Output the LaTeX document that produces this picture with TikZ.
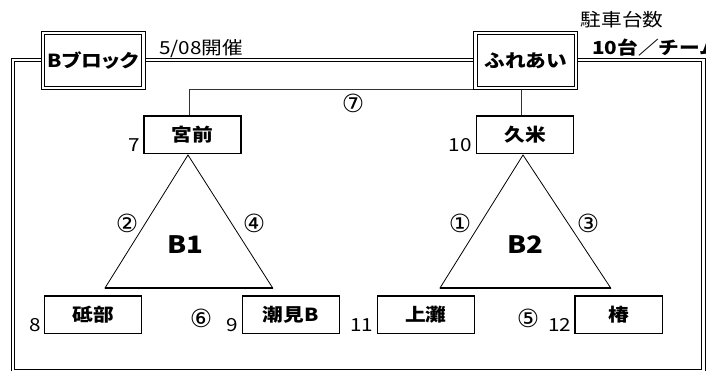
\documentclass[tikz,border=0pt]{standalone}
\usepackage{fontspec}
\setmainfont{Noto Sans CJK JP}[FakeStretch = 1.15]
\newfontfamily\circlefont{DejaVu Sans}
\begin{document}
\begin{tikzpicture}[x = 1pt,y = -1pt,
	team/.style = {draw,line width = 1.6pt,minimum width = 97pt,minimum height = 37.7pt,inner sep = 0pt,font = \bfseries\fontsize{18}{18}\selectfont},
	venue/.style = {draw,double,line width = 1.1pt,double distance = 2.2pt,fill = white,minimum width = 100.6pt,minimum height = 55pt,inner sep = 0pt,font = \bfseries\fontsize{18}{18}\selectfont},
	frame/.style = {double,line width = 1.2pt,double distance = 2.4pt},
	num/.style = {inner sep = 0pt,font = \fontsize{18}{18}\selectfont},
	game/.style = {inner sep = 0pt,font = \circlefont\fontsize{25}{25}\selectfont},
	group/.style = {inner sep = 0pt,font = \bfseries\fontsize{24}{24}\selectfont},
	link/.style = {line width = 0.8pt,draw = black!80}]
	\useasboundingbox (0,0) rectangle (716,371);
	\draw[frame] (13,60) rectangle (703.4,371);
	\node[team] (miyamae) at (192.5,134.7) {宮前};
	\node[team] (kume) at (525,134.7) {久米};
	\coordinate (bend) at (0,89);
	\draw[link] ([xshift = -3.5pt]miyamae.north) |- ([xshift = -3.5pt]bend -| kume.north) -- ([xshift = -3.5pt]kume.north);
	\node[game] (g7) at (353,103) {⑦};
	\node[venue,font = \bfseries\fontsize{18}{18}\selectfont\addfontfeatures{RawFeature = +palt}] (bblock) at (93.2,60.3) {Bブロック};
	\node[venue] (fureai) at (525.8,60.3) {ふれあい};
	\node[anchor = base west,inner sep = 0pt,font = \fontsize{18}{18}\selectfont] (date) at (159,55) {5/08開催};
	\node[inner sep = 0pt,font = \fontsize{18}{18}\selectfont] (parking) at (622,20) {駐車台数};
	\begin{scope}
		\clip (0,0) rectangle (705.5,371);
		\node[anchor = base west,inner sep = 0pt,font = \bfseries\fontsize{18}{18}\selectfont] (cars) at (592,55) {10台／チーム};
	\end{scope}
	\draw[line width = 0.8pt] (188,155) coordinate (b1top) -- (105,288) coordinate (b1left) -- (272.7,288) coordinate (b1right) -- cycle;
	\draw[line width = 1.3pt] (b1left) -- (b1right);
	\draw[line width = 0.8pt] (523,155) coordinate (b2top) -- (440,288) coordinate (b2left) -- (610.7,288) coordinate (b2right) -- cycle;
	\draw[line width = 1.3pt] (b2left) -- (b2right);
	\node[group] (b1) at (185,245) {B1};
	\node[group] (b2) at (525,245) {B2};
	\node[game] (g2) at (127,223) {②};
	\node[game] (g4) at (254,223) {④};
	\node[game] (g1) at (460,223) {①};
	\node[game] (g3) at (588,223) {③};
	\node[game] (g6) at (201,318) {⑥};
	\node[game] (g5) at (528,318) {⑤};
	\node[team] (tobe) at (93,314.7) {砥部};
	\node[team] (shiomi) at (290.8,314.7) {潮見B};
	\node[team] (kaminada) at (425.8,314.7) {上灘};
	\node[team,minimum width = 87.5pt] (tsubaki) at (618.8,314.7) {椿};
	\node[num,anchor = base east] (n7) at ([shift = {(-3,-2.6)}]miyamae.south west) {7};
	\node[num,anchor = base east] (n10) at ([shift = {(-4,-2.6)}]kume.south west) {10};
	\node[num,anchor = base east] (n8) at ([shift = {(-3,-2.6)}]tobe.south west) {8};
	\node[num,anchor = base east] (n9) at ([shift = {(-3,-2.6)}]shiomi.south west) {9};
	\node[num,anchor = base east] (n11) at ([shift = {(-3,-2.6)}]kaminada.south west) {11};
	\node[num,anchor = base east] (n12) at ([shift = {(-3,-2.6)}]tsubaki.south west) {12};
\end{tikzpicture}
\end{document}
